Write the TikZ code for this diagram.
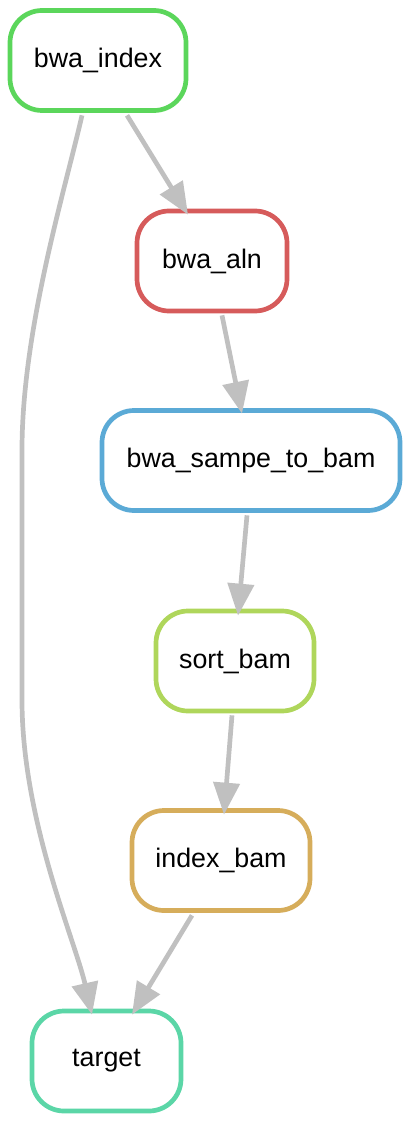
\documentclass[tikz,border=0pt]{standalone}
\usepackage{fontspec}
\setmainfont{Liberation Sans}
\usetikzlibrary{arrows.meta}
\definecolor{cgreen}{HTML}{5BD65B}
\definecolor{cred}{HTML}{D65B5B}
\definecolor{cblue}{HTML}{5BAAD6}
\definecolor{clime}{HTML}{AFD65B}
\definecolor{cgold}{HTML}{D6AD5B}
\definecolor{cteal}{HTML}{5BD6A7}
\definecolor{cedge}{HTML}{C0C0C0}
\tikzset{
  rule/.style={draw=#1, line width=4.7pt, rounded corners=32pt, rectangle,
    minimum height=100pt, inner sep=0pt, fill=white,
    font=\fontsize{26.8pt}{32pt}\selectfont},
  edge/.style={draw=cedge, line width=4.7pt, -{Triangle[length=32pt,width=26pt]}}
}
\begin{document}
\begin{tikzpicture}[x=1pt,y=1pt]
\useasboundingbox (0,0) rectangle (412,-1123);
\node[rule=cgreen, minimum width=176pt] (bwaindex) at (98,-60.5) {bwa\_index};
\node[rule=cred, minimum width=150pt] (bwaaln) at (212,-261) {bwa\_aln};
\node[rule=cblue, minimum width=298pt] (sampe) at (251,-460.5) {bwa\_sampe\_to\_bam};
\node[rule=clime, minimum width=158pt] (sortbam) at (235,-661) {sort\_bam};
\node[rule=cgold, minimum width=178pt] (indexbam) at (221,-860.5) {index\_bam};
\node[rule=cteal, minimum width=149pt] (target) at (106.5,-1061) {target};

\draw[edge] ([shift={(29,-2.5)}]bwaindex.south) -- ([shift={(-24,-6)}]bwaaln.north);
\draw[edge] ([shift={(10,-2)}]bwaaln.south) -- ([shift={(-9,-5.5)}]sampe.north);
\draw[edge] ([shift={(-4,-2.5)}]sampe.south) -- ([shift={(3,-7)}]sortbam.north);
\draw[edge] ([shift={(-3,-2)}]sortbam.south) -- ([shift={(3,-6.5)}]indexbam.north);
\draw[edge] ([shift={(-29,-2.5)}]indexbam.south) -- ([shift={(25.5,-6)}]target.north);
\draw[edge] ([shift={(-16,-2.5)}]bwaindex.south) .. controls (65,-190) and (22,-330) .. (22,-450)
  -- (22,-700) .. controls (22,-820) and (75,-940) .. ([shift={(-14.5,-6)}]target.north);
\end{tikzpicture}
\end{document}
